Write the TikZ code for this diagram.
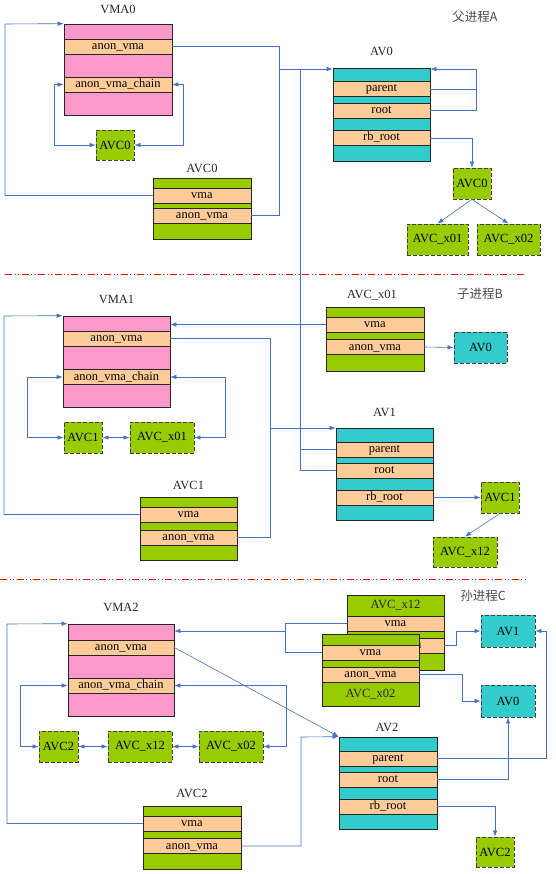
\documentclass[tikz,border=0pt]{standalone}
\usepackage{fontspec}
\setmainfont{Liberation Serif}
\newfontfamily\cjk{Noto Sans CJK SC}
\usetikzlibrary{arrows.meta}
\definecolor{vmapink}{HTML}{FF99CC}
\definecolor{fieldpeach}{HTML}{FFCC99}
\definecolor{avcgreen}{HTML}{99CC00}
\definecolor{avcyan}{HTML}{33CCCC}
\definecolor{linkblue}{HTML}{4472C4}
\tikzset{
        bigbox/.style = {draw = black!85, line width = 0.7pt, inner sep = 0pt},
        fieldbox/.style = {bigbox, fill = fieldpeach, minimum height = 15pt, text height = 8pt, text depth = 2pt},
        smallbox/.style = {draw = black!75, line width = 0.9pt, dash pattern = on 4pt off 2pt, inner sep = 0pt, minimum height = 30pt},
        title/.style = {inner sep = 0pt, text = black!85},
        wire/.style = {draw = linkblue, line width = 0.6pt},
        ptr/.style = {wire, -{Latex[length = 6pt, width = 4.5pt]}},
        dptr/.style = {wire, {Latex[length = 6pt, width = 4.5pt]}-{Latex[length = 6pt, width = 4.5pt]}},
        splitline/.style = {draw = red, line width = 0.8pt, dash pattern = on 7pt off 2.5pt on 1pt off 2.5pt on 1pt off 2.5pt}
}
\begin{document}
\begin{tikzpicture}[x = 1pt, y = -1pt, font = \fontsize{12.5pt}{14pt}\selectfont]
        \useasboundingbox (0,0) rectangle (555,874);
        \node[bigbox, fill = vmapink, minimum width = 108pt, minimum height = 91pt] (vma0) at (118,69.5) {};
        \node[fieldbox, minimum width = 108pt] (vma0a) at (118,46.5) {anon\_vma};
        \node[fieldbox, minimum width = 108pt] (vma0c) at (118,84.5) {anon\_vma\_chain};
        \node[title] (vma0t) at (118,9) {VMA0};
        \node[smallbox, fill = avcgreen, minimum width = 38pt] (avc0s) at (115,145) {AVC0};
        \node[bigbox, fill = avcgreen, minimum width = 98pt, minimum height = 61pt] (avc0) at (202,208.5) {};
        \node[fieldbox, minimum width = 98pt] (avc0v) at (202,195.5) {vma};
        \node[fieldbox, minimum width = 98pt] (avc0a) at (202,215.5) {anon\_vma};
        \node[title] (avc0t) at (202,168) {AVC0};
        \node[bigbox, fill = avcyan, minimum width = 97pt, minimum height = 93pt] (av0) at (381.5,114.5) {};
        \node[fieldbox, minimum width = 97pt] (av0p) at (381.5,89) {parent};
        \node[fieldbox, minimum width = 97pt] (av0r) at (381.5,110.5) {root};
        \node[fieldbox, minimum width = 97pt] (av0b) at (381.5,138) {rb\_root};
        \node[title] (av0t) at (381.5,51) {AV0};
        \node[title, text = black!70] (procA) at (475,17) {\cjk 父进程A};
        \node[smallbox, fill = avcgreen, minimum width = 38pt, minimum height = 31pt] (avc0r) at (472,183.5) {AVC0};
        \node[smallbox, fill = avcgreen, minimum width = 61pt, minimum height = 31pt] (x01r) at (437.5,239.5) {AVC\_x01};
        \node[smallbox, fill = avcgreen, minimum width = 63pt, minimum height = 31pt] (x02r) at (508.5,239.5) {AVC\_x02};
        \coordinate (j0) at (279,69);
        \coordinate (j1) at (476,69);
        \coordinate (j3) at (300,69);
        \draw[wire] (vma0a.east) -| (279,215.5) -- (avc0a.east);
        \draw[ptr] (j0) -- (j0 -| av0.west);
        \draw[ptr] (avc0v.west) -| (5,24) -- (vma0.north west);
        \draw[dptr] (vma0c.west) -| (54,145) -- (avc0s.west);
        \draw[dptr] (vma0c.east) -| (183,145) -- (avc0s.east);
        \draw[ptr] (av0p.east) -| (j1) -- (j1 -| av0.east);
        \draw[wire] (av0r.east) -| (j1);
        \draw[ptr] (av0b.east) -| (avc0r.north);
        \draw[ptr] (avc0r.south) -- (x01r.north);
        \draw[ptr] (avc0r.south) -- (x02r.north);
        \draw[splitline] (5,274) -- (525,274);
        \node[bigbox, fill = vmapink, minimum width = 107pt, minimum height = 91pt] (vma1) at (116.5,361.5) {};
        \node[fieldbox, minimum width = 107pt] (vma1a) at (116.5,338.5) {anon\_vma};
        \node[fieldbox, minimum width = 107pt] (vma1c) at (116.5,377) {anon\_vma\_chain};
        \node[title] (vma1t) at (116.5,299) {VMA1};
        \node[smallbox, fill = avcgreen, minimum width = 38pt, minimum height = 31pt] (avc1s) at (83,437.5) {AVC1};
        \node[smallbox, fill = avcgreen, minimum width = 64pt, minimum height = 31pt] (x01s) at (162,437.5) {AVC\_x01};
        \node[bigbox, fill = avcgreen, minimum width = 97pt, minimum height = 63pt] (avc1) at (188.5,528.5) {};
        \node[fieldbox, minimum width = 97pt] (avc1v) at (188.5,514.5) {vma};
        \node[fieldbox, minimum width = 97pt] (avc1a) at (188.5,537.5) {anon\_vma};
        \node[title] (avc1t) at (188.5,485) {AVC1};
        \node[bigbox, fill = avcgreen, minimum width = 98pt, minimum height = 64pt] (avcx01) at (375,339) {};
        \node[fieldbox, minimum width = 98pt] (avcx01v) at (375,324.5) {vma};
        \node[fieldbox, minimum width = 98pt] (avcx01a) at (375,347) {anon\_vma};
        \node[title] (avcx01t) at (372,295) {AVC\_x01};
        \node[title, text = black!70] (procB) at (480,294) {\cjk 子进程B};
        \node[smallbox, fill = avcyan, minimum width = 53pt, minimum height = 31pt] (av0m) at (480.5,347.5) {AV0};
        \node[bigbox, fill = avcyan, minimum width = 97pt, minimum height = 92pt] (av1) at (384.5,474) {};
        \node[fieldbox, minimum width = 97pt] (av1p) at (384.5,449.5) {parent};
        \node[fieldbox, minimum width = 97pt] (av1r) at (384.5,470.5) {root};
        \node[fieldbox, minimum width = 97pt] (av1b) at (384.5,497.5) {rb\_root};
        \node[title] (av1t) at (384.5,412) {AV1};
        \node[smallbox, fill = avcgreen, minimum width = 38pt, minimum height = 31pt] (avc1r) at (500,497.5) {AVC1};
        \node[smallbox, fill = avcgreen, minimum width = 64pt] (x12m) at (465,552) {AVC\_x12};
        \coordinate (j2) at (270,428);
        \draw[ptr] (avc1v.west) -| (4,316) -- (vma1.north west);
        \draw[dptr] (vma1c.west) -| (27,437.5) -- (avc1s.west);
        \draw[dptr] (vma1c.east) -| (225,437.5) -- (x01s.east);
        \draw[dptr] (avc1s.east) -- (x01s.west);
        \draw[wire] (vma1a.east) -| (270,537.5) -- (avc1a.east);
        \draw[ptr] (j2) -- (j2 -| av1.west);
        \draw[ptr] (avcx01v.west) -- (avcx01v.west -| vma1.east);
        \draw[ptr] (avcx01a.east) -- (av0m.west);
        \draw[wire] (av1p.west) -| (j3);
        \draw[wire] (av1r.west) -| (j3);
        \draw[ptr] (av1b.east) -- (avc1r.west);
        \draw[ptr] (avc1r.south) -- (x12m.north);
        \draw[splitline] (0,579) -- (525,579);
        \node[bigbox, fill = vmapink, minimum width = 106pt, minimum height = 92pt] (vma2) at (121,670) {};
        \node[fieldbox, minimum width = 106pt] (vma2a) at (121,647.5) {anon\_vma};
        \node[fieldbox, minimum width = 106pt] (vma2c) at (121,685.5) {anon\_vma\_chain};
        \node[title] (vma2t) at (121,607) {VMA2};
        \node[smallbox, fill = avcgreen, minimum width = 39pt, minimum height = 31pt] (avc2s) at (58.5,746.5) {AVC2};
        \node[smallbox, fill = avcgreen, minimum width = 64pt, minimum height = 31pt] (x12s) at (140,746.5) {AVC\_x12};
        \node[smallbox, fill = avcgreen, minimum width = 64pt, minimum height = 31pt] (x02s) at (231,746.5) {AVC\_x02};
        \node[bigbox, fill = avcgreen, minimum width = 98pt, minimum height = 63pt] (avc2) at (192,837.5) {};
        \node[fieldbox, minimum width = 98pt] (avc2v) at (192,823.5) {vma};
        \node[fieldbox, minimum width = 98pt] (avc2a) at (192,846) {anon\_vma};
        \node[title] (avc2t) at (192,793) {AVC2};
        \node[bigbox, fill = avcgreen, minimum width = 97pt, minimum height = 75pt] (x12b) at (395.5,632.5) {};
        \node[title] (x12bt) at (395.5,605) {AVC\_x12};
        \node[fieldbox, minimum width = 97pt] (x12bv) at (395.5,623.5) {vma};
        \node[fieldbox, minimum width = 97pt] (x12ba) at (395.5,645.5) {anon\_vma};
        \node[bigbox, fill = avcgreen, minimum width = 97pt, minimum height = 72pt] (x02f) at (370.5,670) {};
        \node[fieldbox, minimum width = 97pt] (x02fv) at (370.5,652.5) {vma};
        \node[fieldbox, minimum width = 97pt] (x02fa) at (370.5,674.5) {anon\_vma};
        \node[title] (x02ft) at (370.5,694) {AVC\_x02};
        \node[title, text = black!70] (procC) at (483,596) {\cjk 孙进程C};
        \node[smallbox, fill = avcyan, minimum width = 54pt, minimum height = 32pt] (av1b2) at (508,631) {AV1};
        \node[smallbox, fill = avcyan, minimum width = 54pt, minimum height = 32pt] (av0b2) at (508,701) {AV0};
        \node[bigbox, fill = avcyan, minimum width = 98pt, minimum height = 92pt] (av2) at (388,783) {};
        \node[fieldbox, minimum width = 98pt] (av2p) at (388,758.5) {parent};
        \node[fieldbox, minimum width = 98pt] (av2r) at (388,779.5) {root};
        \node[fieldbox, minimum width = 98pt] (av2b) at (388,806.5) {rb\_root};
        \node[title] (av2t) at (387,727) {AV2};
        \node[smallbox, fill = avcgreen, minimum width = 38pt] (avc2r) at (495,852) {AVC2};
        \coordinate (j4) at (285,631);
        \draw[ptr] (avc2v.west) -| (7,624) -- (vma2.north west);
        \draw[dptr] (vma2c.west) -| (20,746.5) -- (avc2s.west);
        \draw[dptr] (vma2c.east) -| (286,746.5) -- (x02s.east);
        \draw[dptr] (avc2s.east) -- (x12s.west);
        \draw[dptr] (x12s.east) -- (x02s.west);
        \draw[ptr] (vma2a.east) -- (av2.north west);
        \draw[ptr] (avc2a.east) -| (301,737) -- (av2.north west);
        \draw[wire] (x12bv.west) -| (285,652.5) -- (x02fv.west);
        \draw[ptr] (j4) -- (j4 -| vma2.east);
        \draw[ptr] (x12ba.east) -| (456,631) -- (av1b2.west);
        \draw[ptr] (x02fa.east) -| (462,701) -- (av0b2.west);
        \draw[ptr] (av2p.east) -| (546,631) -- (av1b2.east);
        \draw[ptr] (av2r.east) -| (av0b2.south);
        \draw[ptr] (av2b.east) -| (avc2r.north);
\end{tikzpicture}
\end{document}
